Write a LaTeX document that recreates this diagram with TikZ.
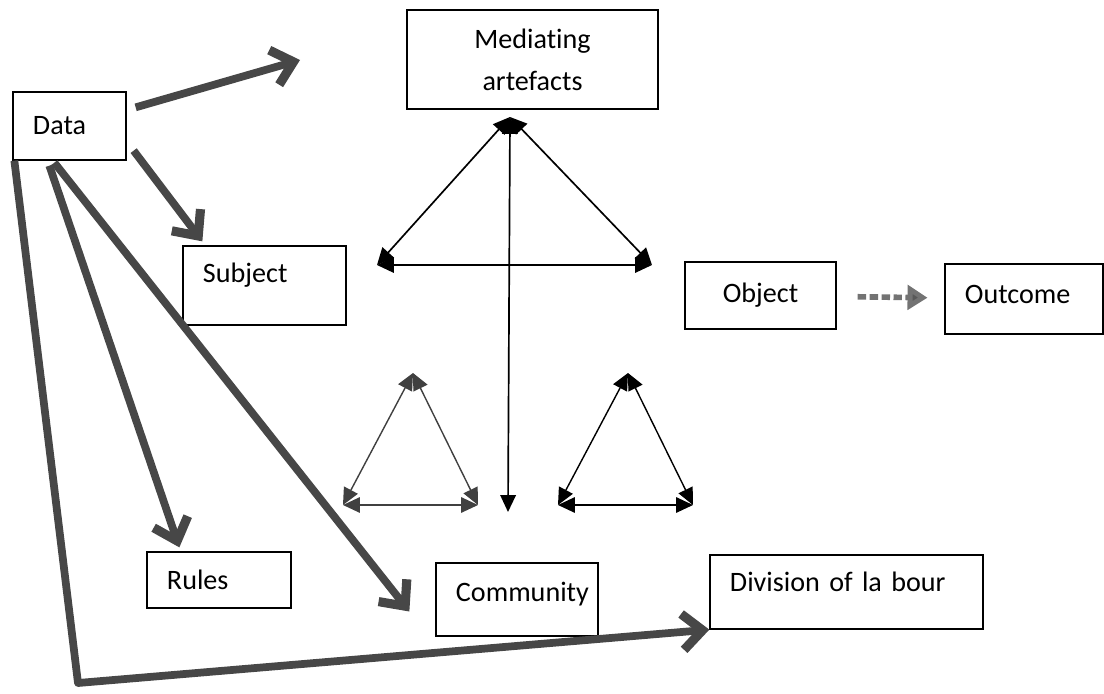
\documentclass[tikz,border=0pt]{standalone}
\usepackage{fontspec}
\setmainfont{Carlito}[Ligatures=NoCommon]
\usetikzlibrary{calc,arrows.meta}

\begin{document}
\begin{tikzpicture}[x=0.025cm, y=-0.025cm,
  box/.style={draw, line width=0.9pt, inner xsep=0.5cm, align=left,
    font=\fontsize{20}{30}\selectfont},
  fat/.style={draw=black!72, line width=5.5pt, line join=round,
    -{Straight Barb[length=0.5cm,width=0.9cm,line width=6.5pt]}},
  link/.style={line width=1.2pt,
    {Triangle[length=12pt,width=11pt]}-{Triangle[length=12pt,width=11pt]}},
  dasharrow/.style={draw=black!55, line width=4pt, dash pattern=on 6pt off 2.5pt,
    -{Triangle[length=0.5cm,width=0.6cm,fill=black!65]}}]

  % Fix the page size
  \useasboundingbox (0,0) rectangle (1104,694);

  % The boxes
  \node[box, text width=1.825cm, minimum height=1.7cm] (data) at (69.5,126) {Data};
  \node[box, align=center, text width=5.275cm, minimum height=2.475cm] (med) at (532.5,59.5) {Mediating\\artefacts};
  \node[box, text width=3.075cm, minimum height=1.975cm, text depth=18pt] (subj) at (264.5,285.5) {Subject};
  \node[box, align=center, text width=2.775cm, minimum height=1.675cm] (obj) at (760.5,295.5) {Object};
  \node[box, text width=2.95cm, minimum height=1.75cm, text depth=7pt] (outc) at (1024,299) {Outcome};
  \node[box, text width=2.6cm, minimum height=1.4cm] (rules) at (219,580) {Rules};
  \node[box, text width=3.05cm, minimum height=1.825cm, text depth=11pt] (comm) at (517,599.5) {Community};
  \node[box, text width=5.825cm, minimum height=1.85cm, text depth=14pt] (div) at (846.5,592) {Division of la bour};

  % Corners of the big triangle
  \coordinate (top) at (510,117);
  \coordinate (lft) at (377,265);
  \coordinate (rgt) at (652,265);
  \coordinate (bot) at (508,512);

  \draw[link] (top) -- (lft);
  \draw[link] (top) -- (rgt);
  \draw[link] (lft) -- (rgt);
  \draw[link] (top) -- (bot);

  % The two small triangles
  \foreach \n/\ax/\col in {p/413/black!75, q/628/black} {
    \coordinate (\n a) at (\ax,373);
    \coordinate (\n b) at (\ax-70,505);
    \coordinate (\n c) at (\ax+65,505);
    \draw[link, \col, line width=1pt] (\n a) -- (\n b);
    \draw[link, \col, line width=1pt] (\n a) -- (\n c);
    \draw[link, \col, line width=1pt] (\n b) -- (\n c);
  }

  % Thick arrows out of the data box
  \coordinate (medtip) at (300,60);
  \coordinate (corner) at (78,683);
  \draw[fat] ($(data.north east)+(9,16)$) -- (medtip);
  \draw[fat] ($(data.south east)+(7,-10)$) -- ($(subj.north west)+(20,-4)$);
  \draw[fat] ($(data.south west)+(37,5)$) -- ($(rules.north west)+(33,-4)$);
  \draw[fat] ($(data.south west)+(42,2)$) -- ($(comm.west)+(-26,12)$);
  \draw[fat] ($(data.south west)+(2,0)$) -- (corner) -- (div.south west);

  % Object to outcome
  \draw[dasharrow, shorten <=0.525cm, shorten >=0.42cm] (obj) -- (outc);

\end{tikzpicture}
\end{document}
